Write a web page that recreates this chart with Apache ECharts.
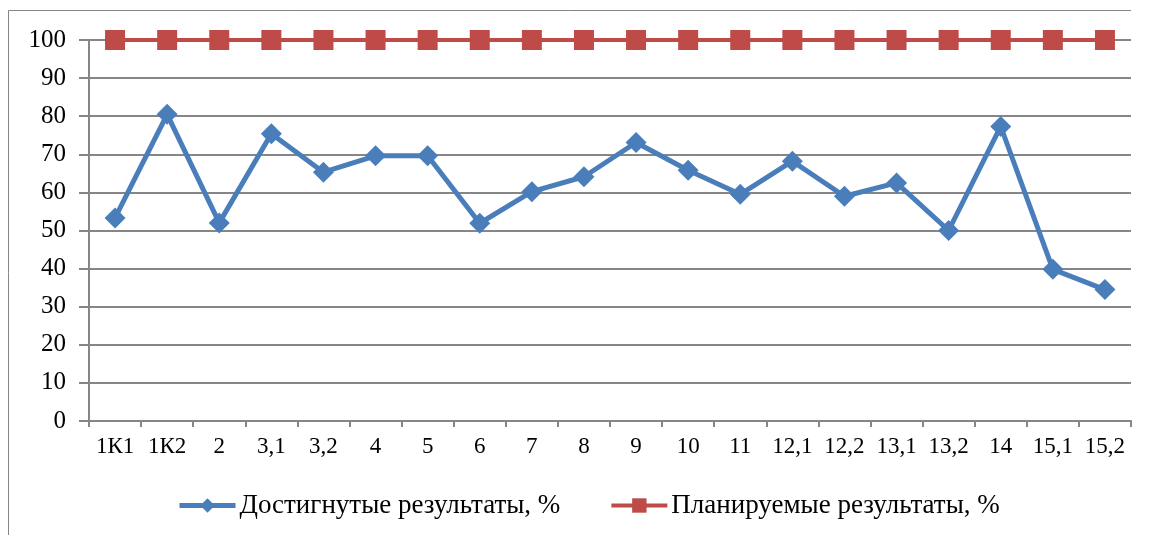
<!DOCTYPE html>
<html><head><meta charset="utf-8">
<script src="https://cdn.jsdelivr.net/npm/echarts@6/dist/echarts.min.js"></script>
<style>html,body{margin:0;padding:0;background:#fff}#c{width:1150px;height:535px}</style>
</head><body><div id="c"></div>
<script>
const categories = ['1К1','1К2','2','3,1','3,2','4','5','6','7','8','9','10','11','12,1','12,2','13,1','13,2','14','15,1','15,2'];
const achieved = [53.3, 80.5, 52.0, 75.4, 65.3, 69.6, 69.6, 51.9, 60.2, 64.1, 73.1, 65.8, 59.5, 68.2, 59.0, 62.5, 50.0, 77.3, 39.8, 34.5];
const planned = [100,100,100,100,100,100,100,100,100,100,100,100,100,100,100,100,100,100,100,100];
const seriesNames = ['Достигнутые результаты, %', 'Планируемые результаты, %'];
const yTicks = {min: 0, max: 100, interval: 10};

const font = '"Liberation Serif", "Times New Roman", serif';
const chart = echarts.init(document.getElementById('c'));
chart.setOption({
  animation: false,
  backgroundColor: '#fff',
  grid: {left: 89, right: 19, top: 40, bottom: 114, containLabel: false},
  graphic: [
    {type: 'polyline', shape: {points: [[8.5, 535], [8.5, 10.5], [1131, 10.5]]}, style: {stroke: '#868686', lineWidth: 1, fill: null}, silent: true}
  ],
  xAxis: {
    type: 'category', data: categories, boundaryGap: true,
    axisLine: {lineStyle: {color: '#868686', width: 2}},
    axisTick: {show: true, length: 6, lineStyle: {color: '#868686', width: 2}, alignWithLabel: false},
    axisLabel: {color: '#000', fontFamily: font, fontSize: 23, margin: 14, interval: 0}
  },
  yAxis: {
    type: 'value', min: yTicks.min, max: yTicks.max, interval: yTicks.interval,
    axisLine: {show: true, lineStyle: {color: '#868686', width: 2}},
    axisTick: {show: true, length: 10, lineStyle: {color: '#868686', width: 2}},
    axisLabel: {color: '#000', fontFamily: font, fontSize: 25, margin: 23},
    splitLine: {lineStyle: {color: '#868686', width: 2}}
  },
  legend: {
    top: 487, left: 172, itemGap: 49, itemWidth: 56, itemHeight: 18,
    lineStyle: {width: 'inherit'},
    textStyle: {color: '#000', fontFamily: font, fontSize: 27, padding: [0, 0, 0, -1]},
    data: seriesNames
  },
  series: [
    {
      name: seriesNames[0], type: 'line', data: achieved,
      symbol: 'diamond', symbolSize: 21,
      lineStyle: {color: '#4a7ebb', width: 5},
      itemStyle: {color: '#4a7ebb'}, z: 3
    },
    {
      name: seriesNames[1], type: 'line', data: planned,
      symbol: 'rect', symbolSize: 20,
      lineStyle: {color: '#be4b48', width: 4},
      itemStyle: {color: '#be4b48'}, z: 2
    }
  ]
});
</script></body></html>
